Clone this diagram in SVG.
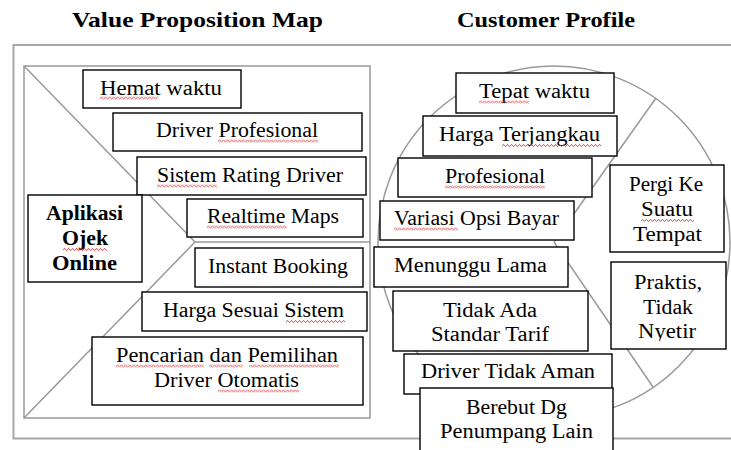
<svg xmlns="http://www.w3.org/2000/svg" width="731" height="450" viewBox="0 0 731 450">
  <style>
    .frame { fill: none; stroke: #a8a8a8; stroke-width: 2; }
    .guide { fill: none; stroke: #999999; stroke-width: 1.5; }
    .box { fill: #ffffff; stroke: #000000; stroke-width: 1.4; }
    .t { font-family: 'Liberation Serif', 'DejaVu Serif', serif; font-size: 20px; fill: #000000; }
    .b { font-weight: bold; }
    .title { font-family: 'Liberation Serif', 'DejaVu Serif', serif; font-size: 21px; font-weight: bold; fill: #000000; }
  </style>
  <defs>
    <!-- red wavy underline tile -->
    <pattern id="wave" width="4" height="3" patternUnits="userSpaceOnUse">
      <path d="M0,2.3 L1,0.7 L2,0.7 L3,2.3 L4,2.3" fill="none" stroke="#e03030" stroke-width="0.8"/>
    </pattern>
    <clipPath id="clipNyetir">
      <rect x="611" y="262" width="115" height="79"/>
    </clipPath>
  </defs>

  <rect width="731" height="450" fill="#ffffff"/>

  <!-- headings -->
  <text class="title" x="72" y="27" textLength="251" lengthAdjust="spacingAndGlyphs">Value Proposition Map</text>
  <text class="title" x="457" y="27" textLength="178" lengthAdjust="spacingAndGlyphs">Customer Profile</text>

  <!-- canvas outline: outer frame, value map square, customer circle -->
  <g id="connectors">
    <rect class="frame" x="13.5" y="45" width="725" height="393.5"/>
    <rect class="guide" x="24" y="66" width="346" height="352"/>
    <path class="guide" d="M24,66 L195,242 L24,418 M195,242 H370"/>
    <circle class="guide" cx="554" cy="242" r="176"/>
    <path class="guide" d="M554,242 L656,98 M554,242 L653,387"/>
  </g>

  <!-- value proposition map -->
  <g id="hemat-waktu">
    <rect class="box" x="83" y="70" width="158" height="38"/>
    <text class="t" x="100" y="95" textLength="122" lengthAdjust="spacingAndGlyphs">Hemat waktu</text>
    <rect x="0" y="0" width="58" height="3" fill="url(#wave)" transform="translate(100,96.5)"/>
  </g>
  <g id="driver-profesional">
    <rect class="box" x="113" y="113" width="249" height="38"/>
    <text class="t" x="156" y="137" textLength="162" lengthAdjust="spacingAndGlyphs">Driver Profesional</text>
    <rect x="0" y="0" width="100" height="3" fill="url(#wave)" transform="translate(218,139.5)"/>
  </g>
  <g id="sistem-rating">
    <rect class="box" x="137" y="157" width="229" height="38"/>
    <text class="t" x="157" y="182" textLength="186" lengthAdjust="spacingAndGlyphs">Sistem Rating Driver</text>
    <rect x="0" y="0" width="60" height="3" fill="url(#wave)" transform="translate(157,184.5)"/>
  </g>
  <g id="aplikasi">
    <rect class="box" x="28" y="195" width="114" height="87"/>
    <text class="t b" x="46" y="220" textLength="77" lengthAdjust="spacingAndGlyphs">Aplikasi</text>
    <text class="t b" x="62" y="245" textLength="46" lengthAdjust="spacingAndGlyphs">Ojek</text>
    <text class="t b" x="52" y="270" textLength="65" lengthAdjust="spacingAndGlyphs">Online</text>
    <rect x="0" y="0" width="44" height="3" fill="url(#wave)" transform="translate(63,248)"/>
  </g>
  <g id="realtime-maps">
    <rect class="box" x="187" y="199" width="176" height="38"/>
    <text class="t" x="207" y="223" textLength="132" lengthAdjust="spacingAndGlyphs">Realtime Maps</text>
    <rect x="0" y="0" width="80" height="3" fill="url(#wave)" transform="translate(207,225.5)"/>
  </g>
  <g id="instant-booking">
    <rect class="box" x="195" y="248" width="168" height="39"/>
    <text class="t" x="208" y="273" textLength="140" lengthAdjust="spacingAndGlyphs">Instant Booking</text>
  </g>
  <g id="harga-sesuai">
    <rect class="box" x="142" y="292" width="225" height="39"/>
    <text class="t" x="163" y="317" textLength="181" lengthAdjust="spacingAndGlyphs">Harga Sesuai Sistem</text>
    <rect x="0" y="0" width="59" height="3" fill="url(#wave)" transform="translate(286,320)"/>
  </g>
  <g id="pencarian">
    <rect class="box" x="92" y="337" width="271" height="68"/>
    <text class="t" x="116" y="362" textLength="222" lengthAdjust="spacingAndGlyphs">Pencarian dan Pemilihan</text>
    <text class="t" x="154" y="387" textLength="145" lengthAdjust="spacingAndGlyphs">Driver Otomatis</text>
    <rect x="0" y="0" width="88" height="3" fill="url(#wave)" transform="translate(116,364.5)"/>
    <rect x="0" y="0" width="34" height="3" fill="url(#wave)" transform="translate(209,364.5)"/>
    <rect x="0" y="0" width="90" height="3" fill="url(#wave)" transform="translate(249,364.5)"/>
    <rect x="0" y="0" width="81" height="3" fill="url(#wave)" transform="translate(218,389.5)"/>
  </g>

  <!-- customer profile -->
  <g id="tepat-waktu">
    <rect class="box" x="456" y="73" width="158" height="40"/>
    <text class="t" x="479" y="98" textLength="111" lengthAdjust="spacingAndGlyphs">Tepat waktu</text>
    <rect x="0" y="0" width="50" height="3" fill="url(#wave)" transform="translate(479,100.5)"/>
  </g>
  <g id="harga-terjangkau">
    <rect class="box" x="423" y="116" width="194" height="40"/>
    <text class="t" x="439" y="141" textLength="161" lengthAdjust="spacingAndGlyphs">Harga Terjangkau</text>
    <rect x="0" y="0" width="99" height="3" fill="url(#wave)" transform="translate(502,144)"/>
  </g>
  <g id="profesional">
    <rect class="box" x="398" y="158" width="194" height="39"/>
    <text class="t" x="445" y="183" textLength="100" lengthAdjust="spacingAndGlyphs">Profesional</text>
    <rect x="0" y="0" width="100" height="3" fill="url(#wave)" transform="translate(445,185.5)"/>
  </g>
  <g id="variasi-opsi">
    <rect class="box" x="380" y="201" width="194" height="39"/>
    <text class="t" x="394" y="225" textLength="165" lengthAdjust="spacingAndGlyphs">Variasi Opsi Bayar</text>
    <rect x="0" y="0" width="64" height="3" fill="url(#wave)" transform="translate(394,227.5)"/>
  </g>
  <g id="pergi-ke">
    <rect class="box" x="610" y="165" width="114" height="87"/>
    <text class="t" x="629" y="191" textLength="74" lengthAdjust="spacingAndGlyphs">Pergi Ke</text>
    <text class="t" x="641" y="216" textLength="52" lengthAdjust="spacingAndGlyphs">Suatu</text>
    <text class="t" x="633" y="241" textLength="69" lengthAdjust="spacingAndGlyphs">Tempat</text>
    <rect x="0" y="0" width="53" height="3" fill="url(#wave)" transform="translate(641,219)"/>
  </g>
  <g id="menunggu-lama">
    <rect class="box" x="374" y="247" width="194" height="40"/>
    <text class="t" x="394" y="272" textLength="153" lengthAdjust="spacingAndGlyphs">Menunggu Lama</text>
  </g>
  <g id="tidak-ada-standar">
    <rect class="box" x="393" y="291" width="195" height="60"/>
    <text class="t" x="443" y="317" textLength="94" lengthAdjust="spacingAndGlyphs">Tidak Ada</text>
    <text class="t" x="431" y="341" textLength="118" lengthAdjust="spacingAndGlyphs">Standar Tarif</text>
  </g>
  <g id="praktis">
    <rect class="box" x="611" y="262" width="115" height="87"/>
    <text class="t" x="634" y="289" textLength="68" lengthAdjust="spacingAndGlyphs">Praktis,</text>
    <text class="t" x="643" y="314" textLength="50" lengthAdjust="spacingAndGlyphs">Tidak</text>
    <text class="t" x="638" y="338" textLength="58" lengthAdjust="spacingAndGlyphs" clip-path="url(#clipNyetir)">Nyetir</text>
  </g>
  <g id="driver-tidak-aman">
    <rect class="box" x="404" y="354" width="208" height="40"/>
    <text class="t" x="421" y="378" textLength="174" lengthAdjust="spacingAndGlyphs">Driver Tidak Aman</text>
  </g>
  <g id="berebut">
    <rect class="box" x="420" y="388" width="193" height="66"/>
    <text class="t" x="466" y="414" textLength="101" lengthAdjust="spacingAndGlyphs">Berebut Dg</text>
    <text class="t" x="440" y="438" textLength="153" lengthAdjust="spacingAndGlyphs">Penumpang Lain</text>
  </g>
</svg>
